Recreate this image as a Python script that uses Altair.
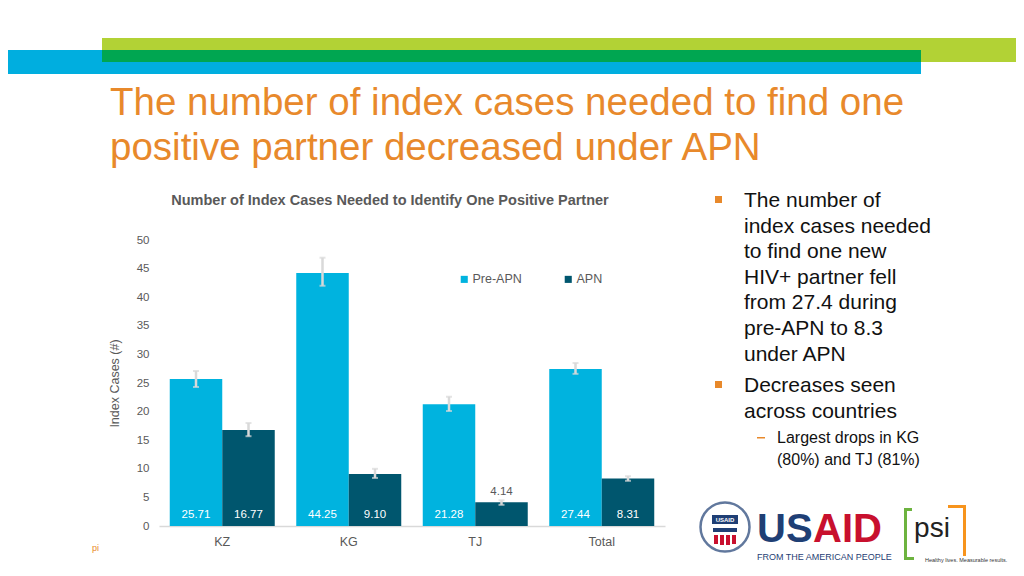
import altair as alt
import pandas as pd

# ---------------- data ----------------
countries = ["KZ", "KG", "TJ", "Total"]
series = ["Pre-APN", "APN"]
pre_apn = [25.71, 44.25, 21.28, 27.44]
apn = [16.77, 9.10, 4.14, 8.31]
pre_lo = [24.3, 42.0, 20.1, 26.6]
pre_hi = [27.1, 46.9, 22.6, 28.5]
apn_lo = [15.7, 8.4, 3.7, 7.9]
apn_hi = [18.0, 10.0, 4.5, 8.7]
y_ticks = [0, 5, 10, 15, 20, 25, 30, 35, 40, 45, 50]
series_colors = ["#00B3DF", "#00566E"]

rows = []
for i, c in enumerate(countries):
    rows.append({"country": c, "series": "Pre-APN", "value": pre_apn[i], "lo": pre_lo[i], "hi": pre_hi[i]})
    rows.append({"country": c, "series": "APN", "value": apn[i], "lo": apn_lo[i], "hi": apn_hi[i]})
df = pd.DataFrame(rows)

# ---------------- layout ----------------
W, H = 506, 286
PL, PT = 151, 232
PR, PB = 1016 - 8 - PL - W, 568 - 8 - PT - H
FONT = "Liberation Sans"
GRAY = "#595959"
ORANGE = "#E8892B"


def px(X):
    return X - (8 + PL)


def py(Y):
    return Y - (8 + PT)


dummy = pd.DataFrame({"d": [0]})

x_enc = alt.X(
    "country:N", sort=countries,
    scale=alt.Scale(paddingInner=0.17, paddingOuter=0.085),
    axis=alt.Axis(title=None, labelAngle=0, labelFontSize=12.5, labelColor=GRAY,
                  labelPadding=9, ticks=False, domainColor="#D9D9D9", domainWidth=1.5,
                  labelFont=FONT),
)
xo_enc = alt.XOffset("series:N", sort=series, scale=alt.Scale(paddingInner=0, paddingOuter=0))
y_axis = alt.Axis(values=y_ticks, title="Index Cases (#)", grid=False, domain=False, ticks=False,
                  labelPadding=10, labelFontSize=11.5, labelColor=GRAY, labelFont=FONT,
                  titleFontSize=12.5, titleColor=GRAY, titleFontWeight="normal", titleFont=FONT,
                  titlePadding=15)
y_scale = alt.Scale(domain=[0, 50])

base = alt.Chart(df)

bars = base.mark_bar().encode(
    x=x_enc, xOffset=xo_enc,
    y=alt.Y("value:Q", scale=y_scale, axis=y_axis),
    color=alt.Color("series:N", sort=series,
                    scale=alt.Scale(domain=series, range=series_colors),
                    legend=alt.Legend(title=None, orient="none", direction="horizontal",
                                      legendX=px(458), legendY=py(273), symbolType="square",
                                      symbolSize=50, symbolStrokeWidth=0, labelFontSize=12.5,
                                      labelColor=GRAY, labelFont=FONT, columnPadding=40,
                                      labelOffset=2)),
)

err = base.mark_rule(color="#D9D9D9", strokeWidth=2.5).encode(
    x=x_enc, xOffset=xo_enc,
    y=alt.Y("lo:Q", scale=y_scale, axis=y_axis), y2="hi:Q",
)
cap_hi = base.mark_tick(color="#D9D9D9", thickness=2, size=6).encode(
    x=x_enc, xOffset=xo_enc, y=alt.Y("hi:Q", scale=y_scale, axis=y_axis))
cap_lo = base.mark_tick(color="#D9D9D9", thickness=2, size=6).encode(
    x=x_enc, xOffset=xo_enc, y=alt.Y("lo:Q", scale=y_scale, axis=y_axis))

labels = base.transform_calculate(
    lab_y="datum.value > 6 ? 1.9 : datum.hi + 1.4"
).mark_text(fontSize=11.5, font=FONT, baseline="middle").encode(
    x=x_enc, xOffset=xo_enc,
    y=alt.Y("lab_y:Q", scale=y_scale, axis=y_axis),
    text=alt.Text("value:Q", format=".2f"),
    color=alt.condition("datum.value > 6", alt.value("white"), alt.value(GRAY)),
)


def rect(x1, x2, y1, y2, color):
    return alt.Chart(dummy).mark_rect(color=color).encode(
        x=alt.value(px(x1)), x2=alt.value(px(x2)), y=alt.value(py(y1)), y2=alt.value(py(y2)))


def txt(s, X, Y, size, color, weight="normal", align="left", baseline="alphabetic",
        angle=0, lineHeight=None, font=FONT):
    kw = dict(fontSize=size, color=color, fontWeight=weight, align=align, baseline=baseline,
              font=font)
    if angle:
        kw["angle"] = angle
    if lineHeight:
        kw["lineHeight"] = lineHeight
        kw["lineBreak"] = "\n"
    return alt.Chart(dummy).mark_text(**kw).encode(
        x=alt.value(px(X)), y=alt.value(py(Y)), text=alt.value(s))


deco = []
# banner
deco.append(rect(102, 1024, 38, 62, "#B2D235"))
deco.append(rect(0, 921, 50, 74, "#00AEDF"))
deco.append(rect(102, 921, 50, 62, "#00A651"))
# slide title
deco.append(txt("The number of index cases needed to find one", 110, 115, 38.5, ORANGE))
deco.append(txt("positive partner decreased under APN", 110, 160, 38.5, ORANGE))
# chart title
deco.append(txt("Number of Index Cases Needed to Identify One Positive Partner", 390, 205, 14.5,
                GRAY, weight="bold", align="center"))
# bullets
deco.append(rect(715, 722, 196, 203, ORANGE))
deco.append(txt("The number of\nindex cases needed\nto find one new\nHIV+ partner fell\nfrom 27.4 during\npre-APN to 8.3\nunder APN",
                744, 207, 21, "#111111", lineHeight=25.6))
deco.append(rect(715, 722, 381, 388, ORANGE))
deco.append(txt("Decreases seen\nacross countries", 744, 392, 21, "#111111", lineHeight=25.6))
deco.append(rect(757, 765, 437, 438.5, ORANGE))
deco.append(txt("Largest drops in KG\n(80%) and TJ (81%)", 777, 443, 16, "#111111", lineHeight=22))
# footer mark
deco.append(txt("pi", 92, 551, 9, ORANGE))
# USAID logo
deco.append(alt.Chart(dummy).mark_point(shape="circle", filled=False, color="#1F3F75",
                                        strokeWidth=2.5, size=2400).encode(
    x=alt.value(px(725)), y=alt.value(py(527))))
deco.append(rect(712, 738, 515, 524, "#1F3F75"))
deco.append(txt("USAID", 725, 520, 6, "white", weight="bold", align="center", baseline="middle"))
deco.append(rect(713, 737, 528, 532, "#1F3F75"))
deco.append(rect(714, 718, 535, 544, "#C8102E"))
deco.append(rect(720, 724, 535, 545, "#C8102E"))
deco.append(rect(726, 730, 535, 545, "#C8102E"))
deco.append(rect(732, 736, 535, 544, "#C8102E"))
deco.append(txt("US", 757, 542, 40, "#1F3F75", weight="bold"))
deco.append(txt("AID", 813, 542, 40, "#C8102E", weight="bold"))
deco.append(txt("FROM THE AMERICAN PEOPLE", 757, 560, 9, "#1F3F75"))
# psi logo
deco.append(rect(904, 907, 508, 560, "#6DB33F"))
deco.append(rect(904, 912, 508, 511, "#6DB33F"))
deco.append(rect(904, 914, 557, 560, "#6DB33F"))
deco.append(rect(948, 966, 505, 508, "#F7941D"))
deco.append(rect(963, 966, 505, 556, "#F7941D"))
deco.append(txt("psi", 932, 537, 28, "#222222", align="center"))
deco.append(txt("Healthy lives. Measurable results.", 925, 562, 5.5, "#333333"))

chart = alt.layer(bars, err, cap_hi, cap_lo, labels, *deco).properties(
    width=W, height=H,
    autosize=alt.AutoSizeParams(type="none"),
    padding={"left": PL, "top": PT, "right": PR, "bottom": PB},
    background="white",
).configure_view(stroke=None)

chart.save("out.html", embed_options={"renderer": "svg", "actions": False})
